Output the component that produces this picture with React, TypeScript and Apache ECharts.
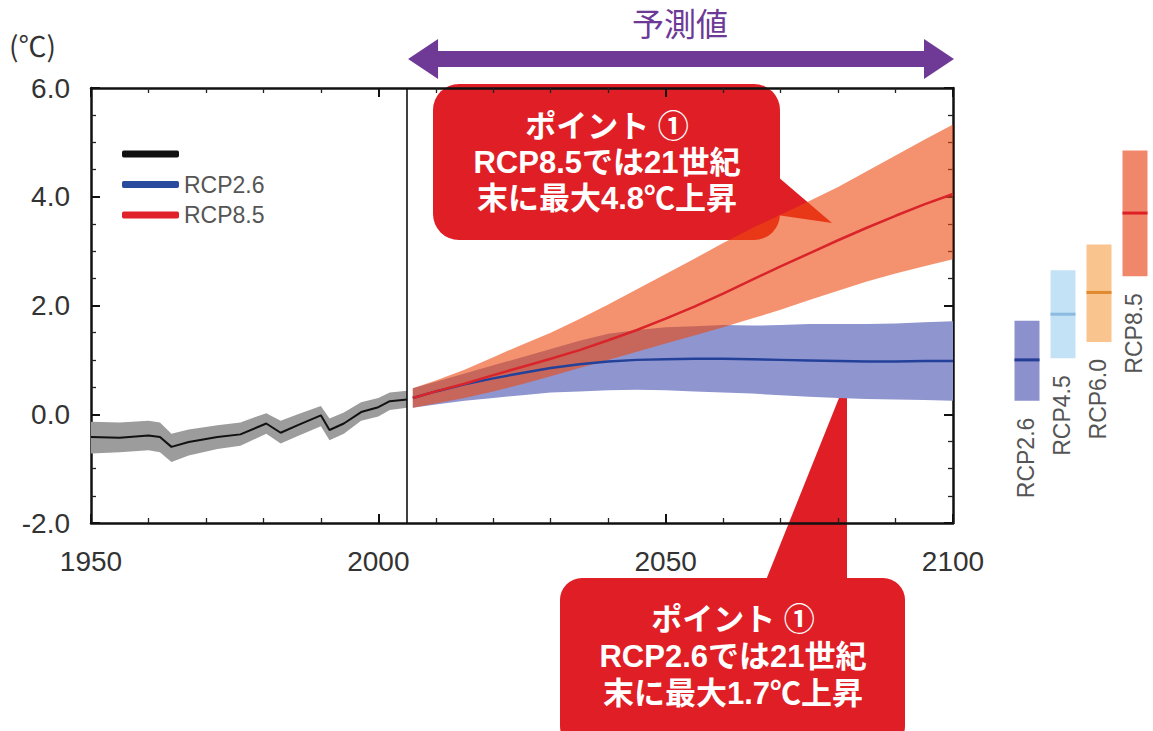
import React, { useEffect, useRef } from "react";
import * as echarts from "echarts";

// ---- Data ----
const HIST_YEARS = [1950, 1955, 1960, 1962, 1964, 1967, 1972, 1976, 1980.5, 1983, 1986, 1990, 1991.5, 1994, 1997, 2000, 2002, 2005];
const HIST_MEAN = [-0.42, -0.43, -0.39, -0.42, -0.6, -0.51, -0.42, -0.37, -0.17, -0.34, -0.2, -0.02, -0.29, -0.17, 0.04, 0.13, 0.24, 0.27];
const HIST_UPPER = [-0.14, -0.15, -0.12, -0.15, -0.36, -0.28, -0.2, -0.15, 0.02, -0.12, 0.0, 0.15, -0.08, 0.03, 0.22, 0.3, 0.4, 0.43];
const HIST_LOWER = [-0.72, -0.7, -0.66, -0.7, -0.88, -0.76, -0.64, -0.58, -0.36, -0.54, -0.4, -0.22, -0.48, -0.36, -0.12, -0.04, 0.08, 0.12];

const PROJ_YEARS = [2006, 2010, 2015, 2020, 2025, 2030, 2035, 2040, 2045, 2050, 2055, 2060, 2065, 2070, 2075, 2080, 2085, 2090, 2095, 2100];
const RCP85_MEAN = [0.3, 0.42, 0.56, 0.72, 0.87, 1.02, 1.18, 1.36, 1.55, 1.76, 1.98, 2.22, 2.47, 2.72, 2.96, 3.2, 3.43, 3.65, 3.86, 4.05];
const RCP85_UPPER = [0.48, 0.62, 0.82, 1.05, 1.28, 1.5, 1.75, 2.02, 2.3, 2.58, 2.86, 3.15, 3.42, 3.67, 3.92, 4.18, 4.47, 4.76, 5.05, 5.33];
const RCP85_LOWER = [0.12, 0.2, 0.3, 0.42, 0.55, 0.7, 0.85, 1.0, 1.15, 1.3, 1.45, 1.6, 1.76, 1.92, 2.1, 2.27, 2.44, 2.59, 2.72, 2.85];
const RCP26_MEAN = [0.3, 0.42, 0.55, 0.66, 0.76, 0.85, 0.92, 0.97, 1.0, 1.01, 1.02, 1.02, 1.01, 1.0, 0.99, 0.98, 0.97, 0.97, 0.98, 0.98];
const RCP26_UPPER = [0.48, 0.6, 0.75, 0.9, 1.05, 1.2, 1.35, 1.48, 1.55, 1.6, 1.62, 1.64, 1.63, 1.64, 1.66, 1.66, 1.66, 1.67, 1.69, 1.71];
const RCP26_LOWER = [0.12, 0.18, 0.25, 0.3, 0.35, 0.4, 0.42, 0.44, 0.45, 0.44, 0.42, 0.4, 0.38, 0.35, 0.32, 0.3, 0.28, 0.27, 0.26, 0.25];

const SIDE_NAMES = ["RCP2.6", "RCP4.5", "RCP6.0", "RCP8.5"];
const SIDE_LOW = [0.25, 1.03, 1.33, 2.54];
const SIDE_MEAN = [1.0, 1.84, 2.24, 3.7];
const SIDE_HIGH = [1.72, 2.65, 3.12, 4.85];
const SIDE_FILL = ["#8c90cc", "#c3e2f6", "#f9c48e", "#f1876a"];
const SIDE_LINE = ["#233e94", "#8dbbe0", "#e08a30", "#df1f26"];

const X_MIN = 1950;
const X_MAX = 2100;
const Y_MIN = -2;
const Y_MAX = 6;
const SPLIT_YEAR = 2005;

const HIST_NAME = "観測";
const CALLOUT_1 = "ポイント ①\nRCP8.5では21世紀\n末に最大4.8℃上昇";
const CALLOUT_2 = "ポイント ①\nRCP2.6では21世紀\n末に最大1.7℃上昇";

// ---- Layout ----
const G = { left: 91, top: 88, right: 953, bottom: 523 };
const W = 1153;
const H = 731;
const px = (year: number) => G.left + ((year - X_MIN) / (X_MAX - X_MIN)) * (G.right - G.left);

const LABEL_FONT = "Liberation Sans, Arial, sans-serif";
const JP_FONT = '"Noto Sans CJK JP", "Noto Sans", sans-serif';
const CALLOUT_FONT = '"Liberation Sans", "Noto Sans CJK JP", sans-serif';
const CALLOUT_RED = "#e01e26";

function bandSeries(name: string, years: number[], lo: number[], hi: number[], fill: string) {
  return {
    type: "custom",
    name,
    xAxisIndex: 0,
    yAxisIndex: 0,
    silent: true,
    data: years.map((y, i) => [y, lo[i], hi[i]]),
    encode: { x: 0, y: [1, 2] },
    renderItem: (params: any, api: any) => {
      if (params.dataIndex !== 0) return null;
      const pts: number[][] = [];
      for (let i = 0; i < years.length; i++) pts.push(api.coord([years[i], hi[i]]));
      for (let i = years.length - 1; i >= 0; i--) pts.push(api.coord([years[i], lo[i]]));
      return { type: "polygon", shape: { points: pts }, style: { fill, stroke: "none" } };
    },
  };
}

export default function App() {
  const ref = useRef<HTMLDivElement>(null);
  useEffect(() => {
    if (!ref.current) return;
    const chart = echarts.init(ref.current, null, { renderer: "svg" });

    const mainX = (pos: string, showLabel: boolean) => ({
      type: "value",
      gridIndex: 0,
      position: pos,
      min: X_MIN,
      max: X_MAX,
      interval: 50,
      axisLine: { show: true, onZero: false, lineStyle: { color: "#111", width: 2.5 } },
      axisTick: { show: true, inside: true, length: 9, lineStyle: { color: "#111", width: 2 } },
      minorTick: { show: true, splitNumber: 5, length: 5, lineStyle: { color: "#222", width: 1.3 } },
      splitLine: { show: false },
      minorSplitLine: { show: false },
      axisLabel: {
        show: showLabel,
        margin: 24,
        color: "#333",
        fontSize: 28,
        fontFamily: LABEL_FONT,
        formatter: (v: number) => String(v),
      },
    });
    const mainY = (pos: string, showLabel: boolean) => ({
      type: "value",
      gridIndex: 0,
      position: pos,
      min: Y_MIN,
      max: Y_MAX,
      interval: 2,
      axisLine: { show: true, onZero: false, lineStyle: { color: "#111", width: 2.5 } },
      axisTick: { show: true, inside: true, length: 9, lineStyle: { color: "#111", width: 2 } },
      minorTick: { show: true, splitNumber: 4, length: 5, lineStyle: { color: "#222", width: 1.3 } },
      splitLine: { show: false },
      minorSplitLine: { show: false },
      axisLabel: {
        show: showLabel,
        margin: 21,
        color: "#333",
        fontSize: 28,
        fontFamily: LABEL_FONT,
        formatter: (v: number) => v.toFixed(1),
      },
    });

    const calloutText = (text: string, x: number, y: number, lh: number) => ({
      type: "text",
      x,
      y,
      style: {
        text,
        fill: "#fff",
        font: `bold 31px ${CALLOUT_FONT}`,
        lineHeight: lh,
        align: "center",
        verticalAlign: "middle",
      },
    });

    const option: any = {
      animation: false,
      backgroundColor: "#ffffff",
      grid: [
        { left: G.left, top: G.top, width: G.right - G.left, height: G.bottom - G.top, containLabel: false },
        { left: 1009, top: G.top, width: 146, height: G.bottom - G.top, containLabel: false },
      ],
      xAxis: [
        mainX("bottom", true),
        mainX("top", false),
        { type: "category", gridIndex: 1, data: SIDE_NAMES, show: false },
      ],
      yAxis: [
        mainY("left", true),
        mainY("right", false),
        { type: "value", gridIndex: 1, min: Y_MIN, max: Y_MAX, show: false },
      ],
      legend: {
        orient: "vertical",
        left: 117,
        top: 137,
        icon: "roundRect",
        itemWidth: 57,
        itemHeight: 7,
        itemGap: 6.5,
        itemTextGap: 10,
        selectedMode: false,
        data: [HIST_NAME, "RCP2.6", "RCP8.5"],
        formatter: (name: string) => (name === HIST_NAME ? " " : name),
        textStyle: { color: "#555", fontSize: 23, lineHeight: 24, fontFamily: LABEL_FONT },
      },
      series: [
        bandSeries("hist-band", HIST_YEARS, HIST_LOWER, HIST_UPPER, "#9c9c9c"),
        bandSeries("rcp26-band", PROJ_YEARS, RCP26_LOWER, RCP26_UPPER, "#8f95cf"),
        bandSeries("rcp85-band", PROJ_YEARS, RCP85_LOWER, RCP85_UPPER, "rgba(237,73,15,0.6)"),
        {
          type: "line",
          name: HIST_NAME,
          color: "#111",
          xAxisIndex: 0,
          yAxisIndex: 0,
          data: HIST_YEARS.map((y, i) => [y, HIST_MEAN[i]]),
          showSymbol: false,
          lineStyle: { color: "#111", width: 2 },
          markLine: {
            silent: true,
            symbol: "none",
            label: { show: false },
            lineStyle: { color: "#111", width: 1.6, type: "solid" },
            data: [{ xAxis: SPLIT_YEAR }],
          },
        },
        {
          type: "line",
          name: "RCP2.6",
          color: "#2a4a9e",
          xAxisIndex: 0,
          yAxisIndex: 0,
          data: PROJ_YEARS.map((y, i) => [y, RCP26_MEAN[i]]),
          showSymbol: false,
          lineStyle: { color: "#24419a", width: 2.5 },
        },
        {
          type: "line",
          name: "RCP8.5",
          color: "#e0232a",
          xAxisIndex: 0,
          yAxisIndex: 0,
          data: PROJ_YEARS.map((y, i) => [y, RCP85_MEAN[i]]),
          showSymbol: false,
          lineStyle: { color: "#d9252a", width: 2.5 },
        },
        {
          type: "custom",
          name: "side",
          xAxisIndex: 2,
          yAxisIndex: 2,
          silent: true,
          data: SIDE_NAMES.map((n, i) => [i, SIDE_LOW[i], SIDE_MEAN[i], SIDE_HIGH[i]]),
          encode: { x: 0, y: [1, 3] },
          renderItem: (params: any, api: any) => {
            const i = params.dataIndex;
            const lo = api.coord([i, SIDE_LOW[i]]);
            const hi = api.coord([i, SIDE_HIGH[i]]);
            const mid = api.coord([i, SIDE_MEAN[i]]);
            const bw = 25;
            return {
              type: "group",
              children: [
                {
                  type: "rect",
                  shape: { x: lo[0] - bw / 2, y: hi[1], width: bw, height: lo[1] - hi[1] },
                  style: { fill: SIDE_FILL[i] },
                },
                {
                  type: "line",
                  shape: { x1: lo[0] - bw / 2, y1: mid[1], x2: lo[0] + bw / 2, y2: mid[1] },
                  style: { stroke: SIDE_LINE[i], lineWidth: 3 },
                },
                {
                  type: "text",
                  x: lo[0] - 1,
                  y: lo[1] + 17,
                  rotation: Math.PI / 2,
                  style: {
                    text: SIDE_NAMES[i],
                    fill: "#555",
                    font: `23px ${LABEL_FONT}`,
                    align: "right",
                    verticalAlign: "middle",
                  },
                },
              ],
            };
          },
        },
      ],
      graphic: [
        {
          type: "text",
          left: 9,
          top: 31,
          z: 50,
          style: { text: "(℃)", fill: "#333", font: `28px ${JP_FONT}` },
        },
        {
          type: "text",
          x: (px(SPLIT_YEAR) + px(X_MAX)) / 2,
          y: 22,
          z: 50,
          style: {
            text: "予測値",
            fill: "#6d3996",
            font: `32px ${JP_FONT}`,
            align: "center",
            verticalAlign: "middle",
          },
        },
        {
          type: "polygon",
          z: 50,
          shape: {
            points: [
              [px(SPLIT_YEAR) + 1, 59],
              [px(SPLIT_YEAR) + 31, 39],
              [px(SPLIT_YEAR) + 31, 51],
              [px(X_MAX) - 29, 51],
              [px(X_MAX) - 29, 39],
              [px(X_MAX) + 1, 59],
              [px(X_MAX) - 29, 79],
              [px(X_MAX) - 29, 67],
              [px(SPLIT_YEAR) + 31, 67],
              [px(SPLIT_YEAR) + 31, 79],
            ],
          },
          style: { fill: "#6f3a96" },
        },
        // Callout 1 (RCP8.5)
        {
          type: "group",
          z: 60,
          children: [
            {
              type: "polygon",
              shape: { points: [[770, 170], [832, 223], [770, 214]] },
              style: { fill: CALLOUT_RED },
            },
            {
              type: "rect",
              shape: { x: 433, y: 84, width: 347, height: 156, r: 26 },
              style: { fill: CALLOUT_RED },
            },
            calloutText(CALLOUT_1, 607, 162, 36),
          ],
        },
        // Callout 2 (RCP2.6)
        {
          type: "group",
          z: 60,
          children: [
            {
              type: "polygon",
              shape: { points: [[762, 590], [847, 378], [847, 590]] },
              style: { fill: CALLOUT_RED },
            },
            {
              type: "rect",
              shape: { x: 560, y: 578, width: 345, height: 170, r: 22 },
              style: { fill: CALLOUT_RED },
            },
            calloutText(CALLOUT_2, 733, 656, 37),
          ],
        },
      ],
    };

    chart.setOption(option);
    return () => chart.dispose();
  }, []);

  return (
    <div
      ref={ref}
      style={{ position: "fixed", left: 0, top: 0, width: W, height: H, background: "#fff" }}
    />
  );
}
